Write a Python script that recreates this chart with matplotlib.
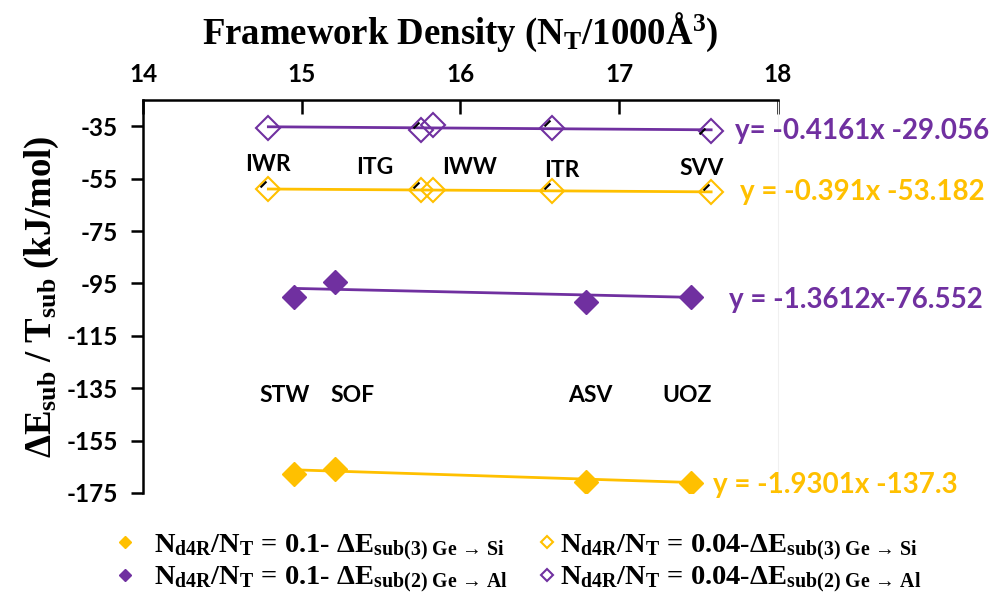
import matplotlib
matplotlib.use("Agg")
import matplotlib.pyplot as plt
import matplotlib.transforms as mtrans
import numpy as np

plt.rcParams['mathtext.fontset'] = 'custom'
plt.rcParams['mathtext.rm'] = 'Liberation Serif:bold'
plt.rcParams['mathtext.it'] = 'Liberation Serif:bold:italic'
plt.rcParams['mathtext.bf'] = 'Liberation Serif:bold'
plt.rcParams['axes.unicode_minus'] = False

PURPLE = '#7030A0'
GOLD = '#FFC000'

# ---- data ----
open_names = ['IWR', 'ITG', 'IWW', 'ITR', 'SVV']
open_x = [14.79, 15.75, 15.83, 16.58, 17.58]
open_al = [-35.5, -36.3, -34.5, -35.7, -36.8]     # 0.04 Ge->Al
open_si = [-59.0, -59.4, -59.3, -59.9, -60.1]     # 0.04 Ge->Si

solid_names = ['STW', 'SOF', 'ASV', 'UOZ']
solid_x = [14.95, 15.21, 16.79, 17.45]
solid_al = [-100.3, -94.6, -102.2, -100.3]        # 0.1 Ge->Al
solid_si = [-167.8, -165.9, -170.9, -171.3]       # 0.1 Ge->Si

fit_open_al = (-0.4161, -29.056)
fit_open_si = (-0.391, -53.182)
fit_solid_al = (-1.3612, -76.552)
fit_solid_si = (-1.9301, -137.3)

eq_open_al = 'y= -0.4161x -29.056'
eq_open_si = 'y = -0.391x -53.182'
eq_solid_al = 'y = -1.3612x-76.552'
eq_solid_si = 'y = -1.9301x -137.3'

xticks = [14, 15, 16, 17, 18]
yticks = [-35, -55, -75, -95, -115, -135, -155, -175]

fig = plt.figure(figsize=(9.95, 5.99), dpi=100)
ax = fig.add_axes([0.1437, 0.177, 0.638, 0.656])
ax.set_xlim(14, 18)
ax.set_ylim(-175, -25)

lw = 2.0
ms = 12

def fitline(xs, fit, color):
    xx = np.array([min(xs), max(xs)])
    ax.plot(xx, fit[0] * xx + fit[1], color=color, lw=lw, zorder=2)

fitline(open_x, fit_open_al, PURPLE)
fitline(open_x, fit_open_si, GOLD)
fitline(solid_x, fit_solid_al, PURPLE)
fitline(solid_x, fit_solid_si, GOLD)

h1, = ax.plot(solid_x, solid_si, 'D', ms=ms, color=GOLD, ls='none', zorder=3)
h2, = ax.plot(solid_x, solid_al, 'D', ms=ms, color=PURPLE, ls='none', zorder=3)
h3, = ax.plot(open_x, open_si, 'D', ms=ms, mfc='none', mec=GOLD, mew=1.5, ls='none', zorder=3)
h4, = ax.plot(open_x, open_al, 'D', ms=ms, mfc='none', mec=PURPLE, mew=1.5, ls='none', zorder=3)

# small black leader-line stubs of the data labels
stub_tr = mtrans.offset_copy(ax.transData, fig=fig, x=-5, y=5, units='dots')
si_idx = [0, 1, 3, 4]
al_idx = [1, 3]
ax.plot([open_x[i] for i in si_idx], [open_si[i] for i in si_idx], ls='none',
        marker=(2, 0, -45), ms=6, mew=1.5, color='black', transform=stub_tr, zorder=4)
ax.plot([open_x[i] for i in al_idx], [open_al[i] for i in al_idx], ls='none',
        marker=(2, 0, -45), ms=6, mew=1.5, color='black', transform=stub_tr, zorder=4)
stub_tr2 = mtrans.offset_copy(ax.transData, fig=fig, x=-9, y=0, units='dots')
ax.plot([open_x[4]], [open_al[4]], ls='none', marker=(2, 0, -45), ms=6, mew=1.5,
        color='black', transform=stub_tr2, zorder=4)

lab_font = dict(family='Lato', fontsize=16.5, fontweight='bold', color='black', ha='center', va='center')
open_dx = [0.0, -0.29, 0.23, 0.06, -0.06]
open_ly = [-49.6, -50.6, -50.9, -51.9, -51.3]
for n, x, dx, ly in zip(open_names, open_x, open_dx, open_ly):
    ax.text(x + dx, ly, n, **lab_font)
solid_dx = [-0.06, 0.11, 0.03, -0.02]
for n, x, dx in zip(solid_names, solid_x, solid_dx):
    ax.text(x + dx, -137.9, n, **lab_font)

eq_font = dict(family='Lato', fontsize=20, fontweight='bold', ha='left', va='center', clip_on=False)
ax.text(18.0 - 0.27, -37.0, eq_open_al, color=PURPLE, **eq_font)
ax.text(18.0 - 0.24, -60.0, eq_open_si, color=GOLD, **eq_font)
ax.text(18.0 - 0.31, -101.5, eq_solid_al, color=PURPLE, **eq_font)
ax.text(18.0 - 0.41, -172.0, eq_solid_si, color=GOLD, **eq_font)

ax.spines['bottom'].set_visible(False)
ax.spines['right'].set_color('#f0f0f0')
ax.spines['right'].set_linewidth(0.8)
for s in ('left', 'top'):
    ax.spines[s].set_linewidth(1.8)

ax.xaxis.tick_top()
ax.xaxis.set_label_position('top')
ax.set_xticks(xticks)
ax.set_yticks(yticks)
ax.tick_params(axis='x', direction='in', length=10, width=1.8, pad=10)
ax.tick_params(axis='y', direction='out', length=9, width=1.8, pad=9)
for t in ax.get_xticklabels() + ax.get_yticklabels():
    t.set_family('Lato'); t.set_fontweight('bold'); t.set_fontsize(17.5)

ax.set_xlabel(r'Framework Density (N$_{\mathrm{T}}$/1000Å$^{\mathrm{3}}$)',
              family='Liberation Serif', fontweight='bold', fontsize=26.5, labelpad=14)
ax.set_ylabel(r'ΔE$_{\mathrm{sub}}$ / T$_{\mathrm{sub}}$ (kJ/mol)',
              family='Liberation Serif', fontweight='bold', fontsize=26.5, labelpad=4)

labels = [r'N$_{\mathrm{d4R}}$/N$_{\mathrm{T}}$ = 0.1- ΔE$_{\mathrm{sub(3)\ Ge\ →\ Si}}$',
          r'N$_{\mathrm{d4R}}$/N$_{\mathrm{T}}$ = 0.1- ΔE$_{\mathrm{sub(2)\ Ge\ →\ Al}}$',
          r'N$_{\mathrm{d4R}}$/N$_{\mathrm{T}}$ = 0.04-ΔE$_{\mathrm{sub(3)\ Ge\ →\ Si}}$',
          r'N$_{\mathrm{d4R}}$/N$_{\mathrm{T}}$ = 0.04-ΔE$_{\mathrm{sub(2)\ Ge\ →\ Al}}$']
legprop = dict(family='Liberation Serif', weight='bold', size=20.5)
leg1 = fig.legend([h1, h2], labels[:2], loc='lower left',
                  bbox_to_anchor=(0.0997, -0.027), frameon=False, prop=legprop,
                  markerscale=0.55, handlelength=0.4, handletextpad=0.84,
                  labelspacing=0.07, borderpad=0.2)
leg2 = fig.legend([h3, h4], labels[2:], loc='lower left',
                  bbox_to_anchor=(0.5237, -0.027), frameon=False, prop=legprop,
                  markerscale=0.55, handlelength=0.4, handletextpad=0.28,
                  labelspacing=0.07, borderpad=0.2)

fig.savefig('out.png', dpi=100)
